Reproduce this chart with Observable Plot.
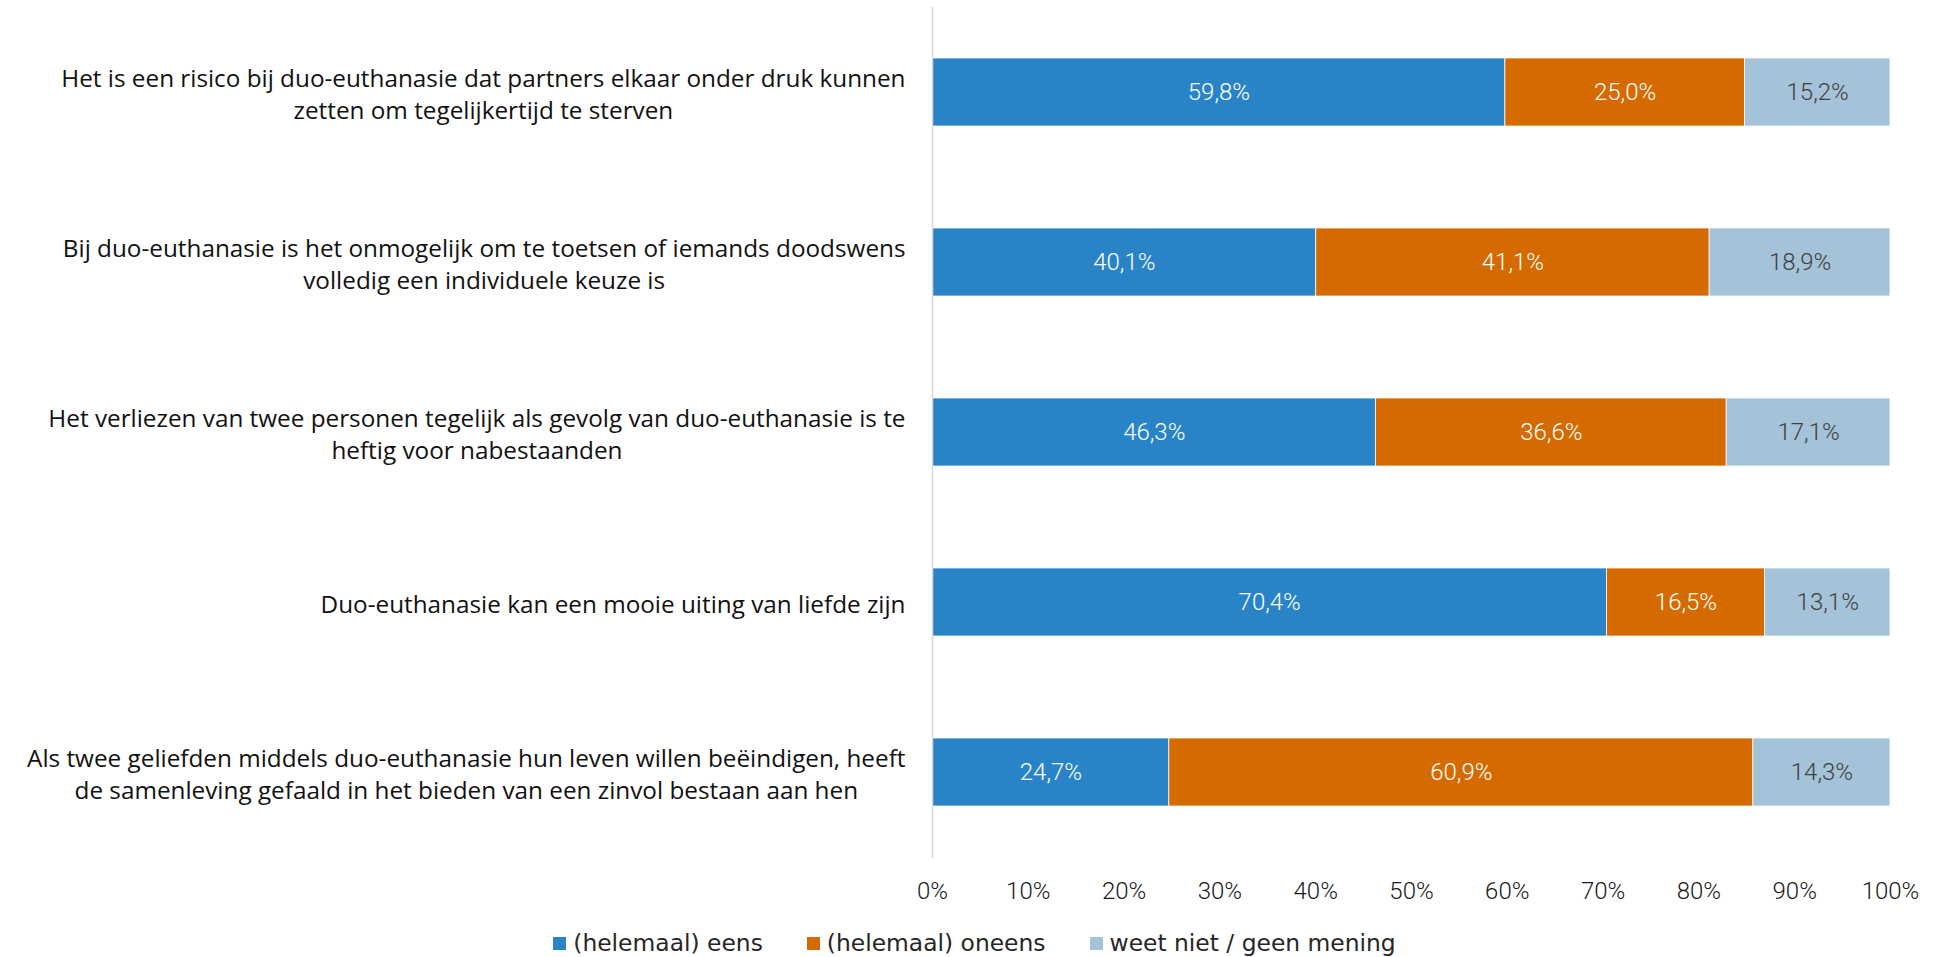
<!DOCTYPE html>
<html>
<head>
<meta charset="utf-8">
<script src="https://cdn.jsdelivr.net/npm/d3@7"></script>
<script src="https://cdn.jsdelivr.net/npm/@observablehq/plot@0.6"></script>
<style>
  html, body { margin: 0; padding: 0; background: #fff; }
  #chart { width: 1941px; }
  .legend { display: flex; justify-content: center; align-items: center; padding-left: 8px; margin-top: 13px; height: 30px;
            font-family: "DejaVu Sans", sans-serif; font-size: 23.4px; color: #262626; }
  .legend .item { display: flex; align-items: center; margin: 0 22px; }
  .legend .sw { width: 13px; height: 13px; margin-right: 7px; }
</style>
</head>
<body>
<div id="chart"></div>
<script>
const categories = [
  "Het is een risico bij duo-euthanasie dat partners elkaar onder druk kunnen\nzetten om tegelijkertijd te sterven",
  "Bij duo-euthanasie is het onmogelijk om te toetsen of iemands doodswens\nvolledig een individuele keuze is",
  "Het verliezen van twee personen tegelijk als gevolg van duo-euthanasie is te\nheftig voor nabestaanden",
  "Duo-euthanasie kan een mooie uiting van liefde zijn",
  "Als twee geliefden middels duo-euthanasie hun leven willen beëindigen, heeft\nde samenleving gefaald in het bieden van een zinvol bestaan aan hen"
];
const series = ["(helemaal) eens", "(helemaal) oneens", "weet niet / geen mening"];
const eens = [59.8, 40.1, 46.3, 70.4, 24.7];
const oneens = [25.0, 41.1, 36.6, 16.5, 60.9];
const weetNiet = [15.2, 18.9, 17.1, 13.1, 14.3];
const colors = ["#2884C6", "#D56B00", "#A4C3D8"];
const xTicks = [0, 10, 20, 30, 40, 50, 60, 70, 80, 90, 100];

const seriesValues = [eens, oneens, weetNiet];
const rows = categories.flatMap((c, i) =>
  series.map((s, j) => ({category: c, series: s, value: seriesValues[j][i]})));

const fmt = v => v.toFixed(1).replace(".", ",") + "%";

const labelFontFamily = "Open Sans";
const labelFontSize = 24.3;
const canvas = document.createElement("canvas");
const ctx = canvas.getContext("2d");
ctx.font = `${labelFontSize}px "${labelFontFamily}"`;
const labelGap = 27;

const labelMarks = categories.map(c => {
  const w = d3.max(c.split("\n"), line => ctx.measureText(line).width);
  return Plot.text([c], {
    y: d => d, frameAnchor: "left", text: d => d,
    textAnchor: "middle", lineAnchor: "middle", lineHeight: 32 / labelFontSize,
    dx: -(labelGap + w / 2), fontSize: labelFontSize, fontFamily: labelFontFamily, fill: "#111"
  });
});

const chart = Plot.plot({
  width: 1941, height: 915,
  marginTop: 7, marginBottom: 57, marginLeft: 932, marginRight: 51,
  x: {domain: [0, 1], axis: null},
  y: {domain: categories, axis: null, paddingInner: 0.6, paddingOuter: 0.3},
  color: {domain: series, range: colors},
  style: {fontFamily: "Roboto, sans-serif", background: "#fff", overflow: "visible"},
  marks: [
    Plot.barX(rows, Plot.stackX({offset: "normalize", x: "value", y: "category", z: "series", fill: "series",
      stroke: "#fff", strokeWidth: 0.75})),
    Plot.text(rows, Plot.stackX({offset: "normalize", x: "value", y: "category", z: "series",
      text: d => fmt(d.value),
      fill: d => d.series === series[2] ? "#404040" : "#ffffff",
      fontSize: 24, fontFamily: "Roboto", fontWeight: 300})),
    Plot.ruleX([0], {stroke: "#d9d9d9", strokeWidth: 1.5}),
    Plot.axisX(xTicks.map(t => t / 100), {tickSize: 0, tickPadding: 23, label: null,
      tickFormat: d => Math.round(d * 100) + "%", fontSize: 24, fontFamily: "Roboto", fontWeight: 300, fill: "#1a1a1a"}),
    ...labelMarks
  ]
});

const root = document.getElementById("chart");
root.appendChild(chart);

const legend = document.createElement("div");
legend.className = "legend";
series.forEach((s, i) => {
  const item = document.createElement("div");
  item.className = "item";
  const sw = document.createElement("span");
  sw.className = "sw";
  sw.style.background = colors[i];
  const t = document.createElement("span");
  t.textContent = s;
  item.appendChild(sw);
  item.appendChild(t);
  legend.appendChild(item);
});
root.appendChild(legend);
</script>
</body>
</html>
